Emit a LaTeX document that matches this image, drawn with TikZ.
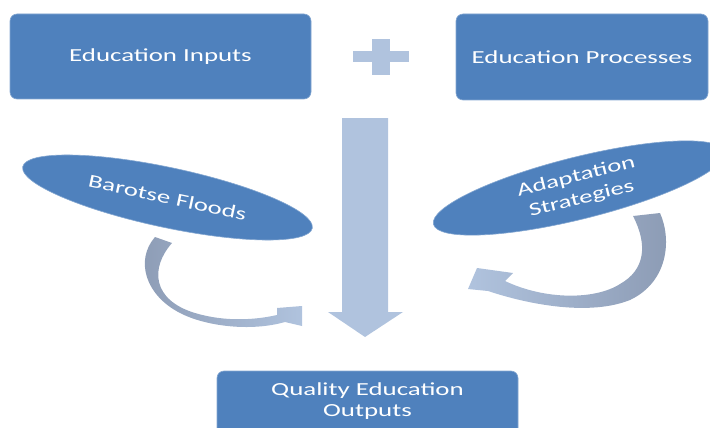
\documentclass[tikz,border=0pt]{standalone}
\usepackage{fontspec}
\setmainfont{Carlito}[FakeStretch=1.46]
\usetikzlibrary{shapes.geometric}
\definecolor{boxblue}{RGB}{79,129,189}
\definecolor{lightarrow}{RGB}{176,195,222}
\definecolor{darkarrow}{RGB}{140,155,180}
\tikzset{
  bluebox/.style={fill=boxblue, draw=boxblue!70!white, line width=0.6pt, rounded corners=7pt},
  boxtext/.style={text=white, font=\fontsize{18.4}{21}\selectfont, align=center, inner sep=0pt},
  blueell/.style={ellipse, fill=boxblue, draw=boxblue!70!white, line width=0.6pt, inner sep=0pt,
    text=white, font=\fontsize{18.4}{22.5}\selectfont, align=center},
  lightshape/.style={fill=lightarrow},
}
\begin{document}
\begin{tikzpicture}[x=1pt,y=-1pt]
\useasboundingbox (0,0) rectangle (710,428);
\clip (0,0) rectangle (710,428);

% top boxes
\draw[bluebox] (10,14) rectangle (311,99);
\node[boxtext] (inputs) at (160.5,56.5) {Education Inputs};
\draw[bluebox] (456,14) rectangle (708,100);
\node[boxtext] (processes) at (582,57) {Education Processes};

% plus sign
\fill[lightshape] (353,51) rectangle (409,62);
\fill[lightshape] (372,39) rectangle (390,75);

% big down arrow
\fill[lightshape] (342,118) -- (388,118) -- (388,312) -- (403,312) -- (365,337)
  -- (328,312) -- (342,312) -- cycle;

% left curved arrow
\shade[left color=darkarrow, right color=lightarrow]
  (155,237) -- (172,243)
  .. controls (150,268) and (152,300) .. (195,313)
  .. controls (225,322) and (255,320) .. (277,315)
  -- (277,308) -- (302,306) -- (302,326) -- (285,322)
  .. controls (250,332) and (205,326) .. (180,313)
  .. controls (145,295) and (135,260) .. (155,237) -- cycle;

% right curved arrow
\shade[left color=lightarrow, right color=darkarrow]
  (633,216)
  .. controls (648,245) and (645,270) .. (620,284)
  .. controls (595,300) and (545,300) .. (505,281)
  -- (513,273) -- (477,268) -- (468,289) -- (488,291)
  .. controls (530,305) and (590,316) .. (630,300)
  .. controls (668,282) and (672,240) .. (660,213) -- cycle;

% ellipses
\node[blueell, minimum width=296pt, minimum height=60pt, rotate=-12] (floods) at (167.5,197.5) {Barotse Floods};
\node[blueell, minimum width=300pt, minimum height=62pt, rotate=14] (adapt) at (579,188) {Adaptation\\Strategies};

% bottom box
\draw[bluebox] (217,371) rectangle (518,445);
\node[boxtext] (outputs) at (367.5,401) {Quality Education\\Outputs};
\end{tikzpicture}
\end{document}
